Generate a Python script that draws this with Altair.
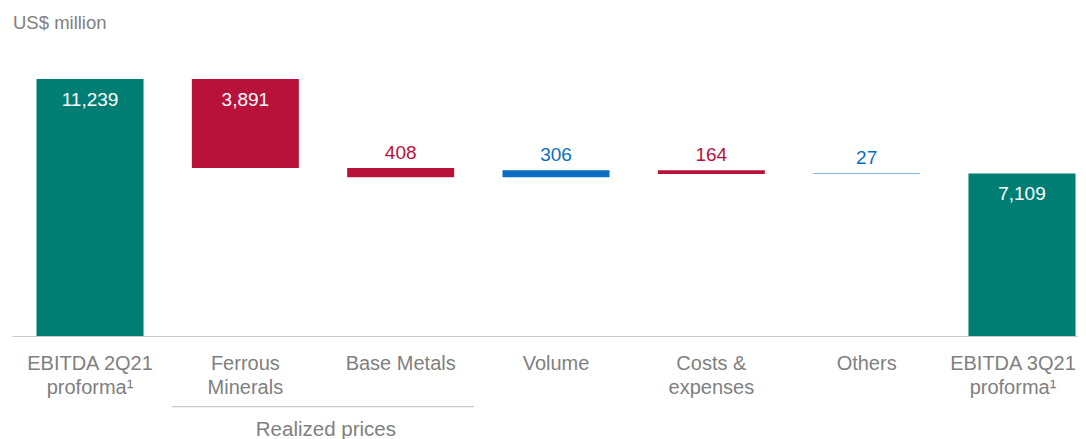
import altair as alt
import pandas as pd

# ---- data ----
categories = ["EBITDA 2Q21|proforma¹", "Ferrous|Minerals", "Base Metals", "Volume",
              "Costs &|expenses", "Others", "EBITDA 3Q21|proforma¹"]
values = [11239, -3891, -408, 306, -164, 27, 7109]
kinds = ["total", "decrease", "decrease", "increase", "decrease", "increase", "total"]
group_first = ["Ferrous|Minerals"]
group_last = ["Base Metals"]
group_label = ["Realized prices"]
unit_label = "US$ million"

# ---- waterfall table ----
rows = []
running = 0
for cat, v, k in zip(categories, values, kinds):
    if k == "total":
        start, end = 0, v
        running = v
    else:
        start, end = running, running + v
        running = end
    rows.append(dict(cat=cat, start=start, end=end, top=max(start, end), kind=k,
                     label=f"{abs(v):,}", inside=abs(v) > 1000))
df = pd.DataFrame(rows)
grp = pd.DataFrame({"first": group_first, "last": group_last, "label": group_label})

FONT = "Liberation Sans"
GREY = "#808080"

xscale = alt.Scale(domain=categories, paddingInner=0.311, paddingOuter=0.087, align=0.907)
yscale = alt.Scale(domain=[0, 12944], nice=False)
cscale = alt.Scale(domain=["total", "decrease", "increase"],
                   range=["#007e73", "#b8123b", "#0a6fc2"])

base = alt.Chart(df)

last_cat = categories[-1]
bars = base.mark_bar().encode(
    x=alt.X("cat:N", scale=xscale, sort=categories,
            axis=alt.Axis(title=None, labelExpr="split(datum.label, '|')", labelAngle=0,
                          labelFontSize=20, labelColor=GREY, labelFont=FONT,
                          labelLineHeight=24, labelPadding=17, ticks=False, tickSize=0,
                          labelOffset={"condition": {"test": f"datum.value === '{last_cat}'", "value": -9},
                                       "value": 0},
                          domainColor="#c8c8c8", domainWidth=1.2, labelOverlap=False,
                          labelLimit=0, labelBound=False)),
    y=alt.Y("start:Q", scale=yscale, axis=None),
    y2="end:Q",
    color=alt.Color("kind:N", scale=cscale, legend=None),
)

inside = base.transform_filter("datum.inside").mark_text(
    baseline="alphabetic", dy=27, fontSize=19, font=FONT, color="white"
).encode(x=alt.X("cat:N", scale=xscale, sort=categories), y=alt.Y("top:Q", scale=yscale), text="label:N")

outside = base.transform_filter("!datum.inside").mark_text(
    baseline="alphabetic", dy=-9, fontSize=19, font=FONT
).encode(x=alt.X("cat:N", scale=xscale, sort=categories), y=alt.Y("top:Q", scale=yscale),
         text="label:N", color=alt.Color("kind:N", scale=cscale, legend=None))

grp_rule = alt.Chart(grp).mark_rule(color="#c8c8c8", strokeWidth=1.2,
                                    xOffset=-19.5, x2Offset=19.5).encode(
    x=alt.X("first:N", scale=xscale, bandPosition=0),
    x2=alt.X2("last:N", bandPosition=1),
    y=alt.value(366.7),
)
grp_text = alt.Chart(grp).mark_text(
    baseline="alphabetic", fontSize=20.5, font=FONT, color=GREY, dx=27
).encode(
    x=alt.X("first:N", scale=xscale, bandPosition=1),
    y=alt.value(396),
    text="label:N",
)

unit = alt.Chart(pd.DataFrame({"t": [unit_label]})).mark_text(
    baseline="alphabetic", align="left", fontSize=18.5, font=FONT, color=GREY
).encode(x=alt.value(1), y=alt.value(-11), text="t:N")

chart = alt.layer(bars, inside, outside, grp_rule, grp_text, unit).properties(
    width=1066, height=296, background="white",
    autosize=alt.AutoSizeParams(type="none"),
    padding={"left": 4, "top": 32, "right": 0, "bottom": 103},
).configure_view(stroke=None)

chart.save("out.html", embed_options={"renderer": "svg", "actions": False})
